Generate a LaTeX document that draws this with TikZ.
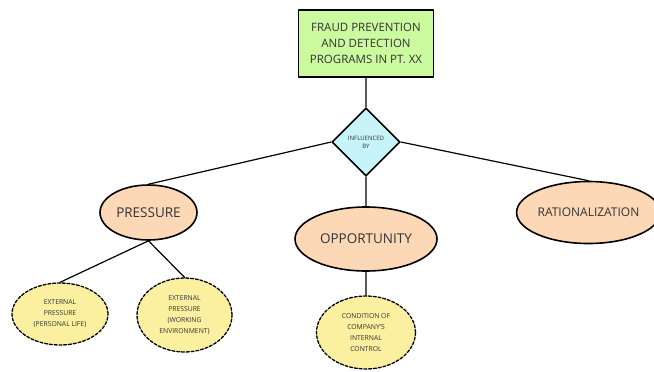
\documentclass[tikz,border=0pt]{standalone}
\usepackage{fontspec}
\setmainfont{Open Sans}
\usetikzlibrary{shapes.geometric}
\definecolor{BoxGreen}{HTML}{CCFA9E}
\definecolor{DiaCyan}{HTML}{C6F4F8}
\definecolor{OvalPeach}{HTML}{FDD8B6}
\definecolor{OvalYellow}{HTML}{FAF0A0}
\definecolor{TextGray}{HTML}{333333}
\begin{document}
\begin{tikzpicture}[x=1pt,y=-1pt,line cap=round,line join=round]
  \useasboundingbox (0,0) rectangle (654,372);
  \tikzset{oval/.style={ellipse,draw,line width=1.6pt,fill=OvalPeach,inner sep=0pt,text=TextGray,font=\fontsize{13.5}{15}\selectfont},
    sub/.style={oval,line width=1.3pt,dash pattern=on 3pt off 1.8pt,fill=OvalYellow,align=center,font=\fontsize{6.8}{11}\selectfont}}
  \node[draw,line width=1.8pt,fill=BoxGreen,minimum width=135pt,minimum height=67pt,align=center,text=TextGray,font=\fontsize{11.5}{16.2}\selectfont] (prog) at (366,43.5) {FRAUD PREVENTION\\AND DETECTION\\PROGRAMS IN PT. XX};
  \node[diamond,draw,line width=1.6pt,fill=DiaCyan,minimum width=68pt,minimum height=68pt,inner sep=0pt,align=center,text=TextGray,font=\fontsize{6}{8.3}\selectfont] (infl) at (366,142) {INFLUENCED\\BY};
  \node[oval,minimum width=97pt,minimum height=55pt] (pres) at (148.5,212.5) {PRESSURE};
  \node[oval,minimum width=142pt,minimum height=64pt] (opp) at (366,239) {OPPORTUNITY};
  \node[oval,minimum width=131pt,minimum height=62pt,font=\fontsize{12}{14}\selectfont] (rat) at (588.5,212.5) {RATIONALIZATION};
  \node[sub,minimum width=96pt,minimum height=62pt] (ext1) at (60,314) {EXTERNAL\\PRESSURE\\(PERSONAL LIFE)};
  \node[sub,minimum width=95pt,minimum height=74pt] (ext2) at (184.5,315) {EXTERNAL\\PRESSURE\\(WORKING\\ENVIRONMENT)};
  \node[sub,minimum width=99pt,minimum height=73pt] (cond) at (366,332.5) {CONDITION OF\\COMPANY'S\\INTERNAL\\CONTROL};
  \draw[line width=1.2pt] (prog) -- (infl) (infl.west) -- (pres.north) (infl.east) -- (rat.north) (infl) -- (opp) (opp) -- (cond);
  \foreach \E in {ext1,ext2}{\draw[line width=1.2pt] (pres.south) -- (\E.north);}
\end{tikzpicture}
\end{document}
